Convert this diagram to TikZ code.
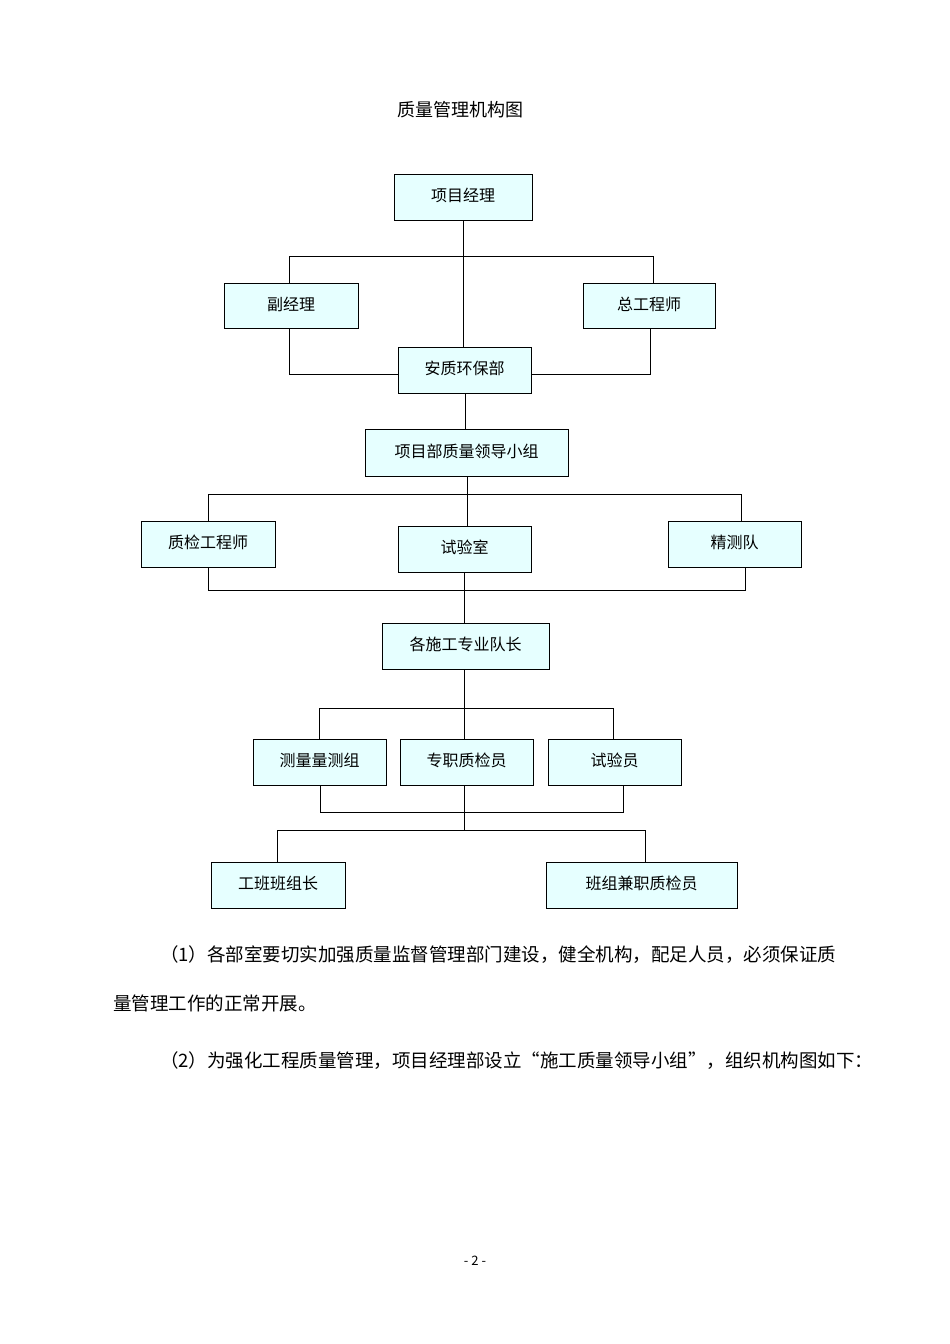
\documentclass[tikz,border=0pt]{standalone}
\usepackage{fontspec}
\setmainfont{Noto Sans CJK SC}
\XeTeXlinebreaklocale "zh"
\XeTeXlinebreakskip=0pt plus 3pt
\definecolor{boxfill}{RGB}{230,255,255}
\tikzset{bx/.style={draw=black,line width=1pt,fill=boxfill,font=\fontsize{16}{18}\selectfont,inner sep=0pt},
ln/.style={line width=1pt},
body/.style={anchor=west,inner sep=0pt,font=\fontsize{18.5}{22}\selectfont}}
\newcommand{\bxat}[6]{\node[bx,minimum width={#4-#2},minimum height={#5-#3}] (#1) at ({(#2+#4)/2},{(#3+#5)/2}) {\raisebox{4pt}{#6}};}
\begin{document}
\begin{tikzpicture}[x=1pt,y=-1pt]
\useasboundingbox (0,0) rectangle (950,1344);
\node[font=\fontsize{18}{20}\selectfont] (title) at (460,110) {质量管理机构图};
\draw[ln] (463,220) -- (463,347);
\draw[ln] (289,283) -- (289,256) -- (653,256) -- (653,283);
\draw[ln] (289,328) -- (289,374) -- (398,374);
\draw[ln] (650,328) -- (650,374) -- (531,374);
\draw[ln] (465,393) -- (465,429);
\draw[ln] (467,476) -- (467,526);
\draw[ln] (208,521) -- (208,494) -- (741,494) -- (741,521);
\draw[ln] (208,567) -- (208,590) -- (745,590) -- (745,567);
\draw[ln] (464,572) -- (464,623);
\draw[ln] (464,669) -- (464,739);
\draw[ln] (319,739) -- (319,708) -- (613,708) -- (613,739);
\draw[ln] (320,785) -- (320,812) -- (623,812) -- (623,785);
\draw[ln] (464,785) -- (464,830);
\draw[ln] (277,862) -- (277,830) -- (645,830) -- (645,862);
\bxat{pm}{394}{174}{532}{220}{项目经理}
\bxat{fj}{224}{283}{358}{328}{副经理}
\bxat{zg}{583}{283}{715}{328}{总工程师}
\bxat{aq}{398}{347}{531}{393}{安质环保部}
\bxat{ld}{365}{429}{568}{476}{项目部质量领导小组}
\bxat{zj}{141}{521}{275}{567}{质检工程师}
\bxat{sy}{398}{526}{531}{572}{试验室}
\bxat{jc}{668}{521}{801}{567}{精测队}
\bxat{dz}{382}{623}{549}{669}{各施工专业队长}
\bxat{cl}{253}{739}{386}{785}{测量量测组}
\bxat{zz}{400}{739}{533}{785}{专职质检员}
\bxat{syy}{548}{739}{681}{785}{试验员}
\bxat{gb}{211}{862}{345}{908}{工班班组长}
\bxat{bz}{546}{862}{737}{908}{班组兼职质检员}
\node[body] (p1) at (160,955) {\makebox[697pt][s]{（1）各部室要切实加强质量监督管理部门建设，健全机构，配足人员，必须保证质}};
\node[body] (p2) at (113,1003) {量管理工作的正常开展。};
\node[body] (p3) at (160,1061) {（2）为强化工程质量管理，项目经理部设立“施工质量领导小组”，组织机构图如下：};
\node[font=\fontsize{13}{15}\selectfont] (pg) at (475,1261) {- 2 -};
\end{tikzpicture}
\end{document}
